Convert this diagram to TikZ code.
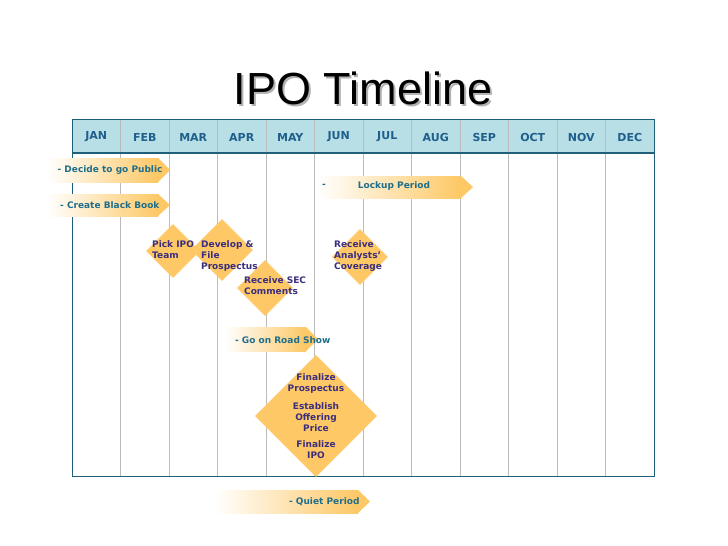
\documentclass[tikz,border=0pt]{standalone}
\usepackage{fontspec}
\setmainfont{DejaVu Sans}
\newfontfamily\titlefont{Liberation Sans}
\usetikzlibrary{shapes.geometric}
\definecolor{hdr}{HTML}{B9DFE6}
\definecolor{edge}{HTML}{1F5F7A}
\definecolor{mon}{HTML}{1F5F8B}
\definecolor{atext}{HTML}{1F6E8C}
\definecolor{dtext}{HTML}{3B2E7E}
\definecolor{gold}{HTML}{FDC865}
\definecolor{grid}{HTML}{BBBBBB}
\tikzset{
 month/.style={font=\bfseries\fontsize{11}{12}\selectfont, text=mon},
 atxt/.style={font=\bfseries\fontsize{9}{10}\selectfont, text=atext, anchor=east},
 dia/.style={diamond, fill=gold, inner sep=0pt, minimum width=#1, minimum height=#1},
 dtxt/.style={font=\bfseries\fontsize{9}{11}\selectfont, text=dtext, align=left, anchor=north west, inner sep=0pt},
 ctxt/.style={font=\bfseries\fontsize{9}{11}\selectfont, text=dtext, align=center},
}
\newcommand{\garrow}[5]{% x1,x2,ytop,ybot,name
 \shade[left color=white, right color=gold, shading angle=90] (#1,#3) rectangle (#2-12,#4);
 \fill[gold] (#2-12,#3) -- (#2,{(#3+#4)/2}) -- (#2-12,#4) -- cycle;
 \coordinate (#5) at (#2-12,{(#3+#4)/2});
}
\begin{document}
\begin{tikzpicture}[x=1pt,y=-1pt]
\useasboundingbox[fill=white] (0,0) rectangle (728,546);
\node[font=\titlefont\fontsize{45}{48}\selectfont, text=black!30] (tshadow) at (365,90) {IPO Timeline};
\node[font=\titlefont\fontsize{45}{48}\selectfont] (title) at (363,88) {IPO Timeline};
\fill[hdr] (72,119) rectangle (654,153);
\foreach \i in {1,...,11} \draw[grid] (72+48.5*\i,119) -- (72+48.5*\i,476);
\draw[edge, line width=1pt] (72,119) rectangle (654,476);
\draw[edge, line width=1.5pt] (72,153) -- (654,153);
\foreach \m [count=\i from 0] in {JAN,FEB,MAR,APR,MAY,JUN,JUL,AUG,SEP,OCT,NOV,DEC}
  \node[month] (m\i) at (72+48.5*\i+24.25,137) {\m};
\garrow{47}{170}{158}{182}{a1}
\garrow{47}{170}{194}{216}{a2}
\garrow{318}{473}{176}{198}{a3}
\garrow{225}{318}{327}{351}{a4}
\garrow{215}{370}{490}{513}{a5}
\node[atxt] (t1) at (166,170) {- Decide to go Public};
\node[atxt] (t2) at (163,205) {- Create Black Book};
\node[font=\bfseries\fontsize{9}{10}\selectfont, text=atext] (t3a) at (324,186) {-};
\node[font=\bfseries\fontsize{9}{10}\selectfont, text=atext] (t3) at (394,186) {Lockup Period};
\node[atxt] (t4) at (334,340) {- Go on Road Show};
\node[atxt] (t5) at (363,502) {- Quiet Period};
\node[dia=54] (d1) at (173,251) {};
\node[dia=62] (d2) at (222,250) {};
\node[dia=56] (d3) at (265,288) {};
\node[dia=56] (d4) at (360,257) {};
\node[dia=122] (d5) at (316,416) {};
\node[dtxt] (l1) at (152,240) {Pick IPO\\Team};
\node[dtxt] (l2) at (201,240) {Develop \&\\File\\Prospectus};
\node[dtxt] (l3) at (244,276) {Receive SEC\\Comments};
\node[dtxt] (l4) at (334,240) {Receive\\Analysts'\\Coverage};
\node[ctxt] (l5) at (316,384) {Finalize\\Prospectus};
\node[ctxt] (l6) at (316,417) {Establish\\Offering\\Price};
\node[ctxt] (l7) at (316,450) {Finalize\\IPO};
\end{tikzpicture}
\end{document}
